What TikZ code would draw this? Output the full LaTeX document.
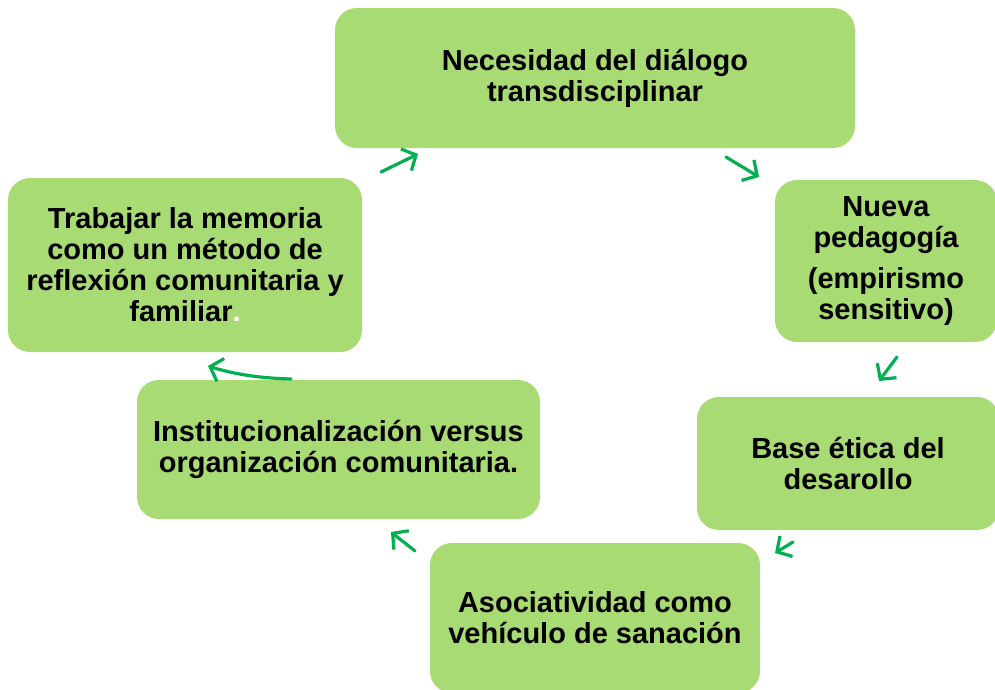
\documentclass[tikz,border=0pt]{standalone}
\usepackage{fontspec}
\setmainfont{Liberation Sans}
\usetikzlibrary{arrows.meta}
\definecolor{boxgreen}{RGB}{168,219,115}
\definecolor{arrgreen}{RGB}{0,176,80}
\begin{document}
\begin{tikzpicture}[x=1pt,y=-1pt,
  box/.style={fill=boxgreen,draw=none,rounded corners=22pt,align=center,
    font=\fontsize{29}{31}\selectfont\bfseries,inner sep=0pt},
  arr/.style={draw=arrgreen,line width=3.2pt,line cap=round,
    -{Straight Barb[length=11pt,width=24pt,line width=3.2pt]}}]
\useasboundingbox (0,0) rectangle (995,689);
\node[box,minimum width=520pt,minimum height=140pt] (b1) at (595,78) {Necesidad del diálogo\\transdisciplinar};
\node[box,minimum width=222pt,minimum height=162pt] (b2) at (886,261) {Nueva\\pedagogía\\[10pt](empirismo\\sensitivo)};
\node[box,minimum width=302pt,minimum height=133pt] (b3) at (848,463.5) {Base ética del\\desarollo};
\node[box,minimum width=330pt,minimum height=150pt] (b4) at (595,618) {Asociatividad como\\vehículo de sanación};
\node[box,minimum width=403pt,minimum height=139pt] (b5) at (338.5,449.5) {Institucionalización versus\\organización comunitaria.};
\node[box,minimum width=354pt,minimum height=174pt] (b6) at (185,265) {Trabajar la memoria\\como un método de\\reflexión comunitaria y\\familiar{\color{white}.}};
\coordinate (a1s) at (381,172); \coordinate (a1e) at (418,154);
\coordinate (a2s) at (726,157); \coordinate (a2e) at (759,177);
\coordinate (a3s) at (897,357); \coordinate (a3e) at (879,381);
\coordinate (a4s) at (793,542); \coordinate (a4e) at (775,553);
\coordinate (a5s) at (415,551); \coordinate (a5e) at (391,532);
\coordinate (a6s) at (291,379); \coordinate (a6e) at (208,366);
\draw[arr] (a1s) -- (a1e);
\draw[arr] (a2s) -- (a2e);
\draw[arr] (a3s) -- (a3e);
\draw[arr] (a4s) -- (a4e);
\draw[arr] (a5s) -- (a5e);
\draw[arr] (a6s) .. controls (255,378) and (230,373) .. (a6e);
\end{tikzpicture}
\end{document}
